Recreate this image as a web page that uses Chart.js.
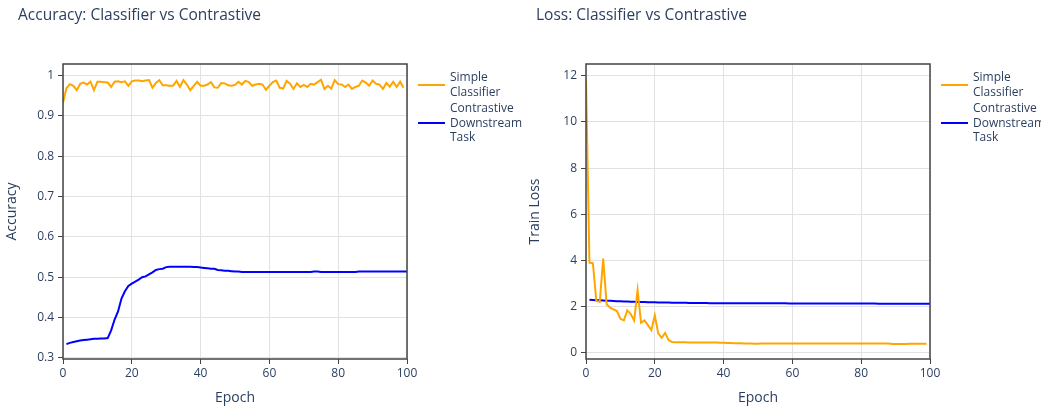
<!DOCTYPE html>
<html>
<head>
<meta charset="utf-8">
<script src="https://cdn.jsdelivr.net/npm/chart.js@4.4.1/dist/chart.umd.min.js"></script>
<style>
  body { margin: 0; background: #fff; font-family: "Open Sans", sans-serif; }
  #wrap { position: relative; width: 1041px; height: 409px; }
  .box { position: absolute; top: 0; width: 520px; height: 409px; }
  .title { position: absolute; top: 3px; font-size: 15.5px; color: #2a3f5f; white-space: nowrap; }
  .legend { position: absolute; top: 70px; font-size: 12px; color: #2a3f5f; line-height: 14.5px; }
  .item { position: relative; padding-left: 32px; margin-bottom: 2px; }
  .item span.sw { position: absolute; left: 0; width: 27px; height: 2px; }
</style>
</head>
<body>
<div id="wrap">
  <div class="box" style="left:0"><canvas id="accChart"></canvas></div>
  <div class="box" style="left:523px"><canvas id="lossChart"></canvas></div>
  <div class="title" style="left:18px">Accuracy: Classifier vs Contrastive</div>
  <div class="title" style="left:536px">Loss: Classifier vs Contrastive</div>
  <div class="legend" style="left:418px">
    <div class="item"><span class="sw" style="background:orange;top:14px"></span>Simple<br>Classifier</div>
    <div class="item"><span class="sw" style="background:blue;top:21px"></span>Contrastive<br>Downstream<br>Task</div>
  </div>
  <div class="legend" style="left:941px">
    <div class="item"><span class="sw" style="background:orange;top:14px"></span>Simple<br>Classifier</div>
    <div class="item"><span class="sw" style="background:blue;top:21px"></span>Contrastive<br>Downstream<br>Task</div>
  </div>
</div>
<script>
// epochs: classifier logged 0..99, contrastive 1..100
let classifierEpochs = Array.from({length: 100}, (_, k) => k);
let contrastiveEpochs = Array.from({length: 100}, (_, k) => k + 1);

let classifierAcc = [
  0.933, 0.969, 0.979, 0.975, 0.964, 0.980, 0.983, 0.978, 0.985, 0.964,
  0.985, 0.985, 0.984, 0.983, 0.972, 0.985, 0.986, 0.984, 0.986, 0.975,
  0.986, 0.988, 0.988, 0.986, 0.988, 0.989, 0.970, 0.982, 0.989, 0.976,
  0.976, 0.975, 0.975, 0.987, 0.972, 0.989, 0.978, 0.964, 0.975, 0.985,
  0.975, 0.975, 0.978, 0.984, 0.971, 0.970, 0.982, 0.981, 0.976, 0.975,
  0.977, 0.985, 0.978, 0.987, 0.984, 0.975, 0.978, 0.980, 0.978, 0.965,
  0.975, 0.984, 0.988, 0.970, 0.968, 0.987, 0.980, 0.967, 0.981, 0.972,
  0.977, 0.972, 0.980, 0.978, 0.984, 0.990, 0.967, 0.975, 0.968, 0.989,
  0.979, 0.978, 0.972, 0.978, 0.967, 0.972, 0.975, 0.988, 0.983, 0.975,
  0.988, 0.980, 0.978, 0.967, 0.982, 0.973, 0.985, 0.972, 0.985, 0.970
];
let contrastiveAcc = [
  0.334, 0.337, 0.339, 0.341, 0.343, 0.344, 0.345, 0.346, 0.347, 0.347,
  0.348, 0.348, 0.349, 0.368, 0.395, 0.415, 0.447, 0.465, 0.478, 0.484,
  0.489, 0.494, 0.500, 0.502, 0.507, 0.512, 0.518, 0.520, 0.521, 0.525,
  0.526, 0.526, 0.526, 0.526, 0.526, 0.526, 0.526, 0.525, 0.525, 0.524,
  0.523, 0.522, 0.521, 0.521, 0.518, 0.517, 0.516, 0.516, 0.515, 0.514,
  0.514, 0.513, 0.513, 0.513, 0.513, 0.513, 0.513, 0.513, 0.513, 0.513,
  0.513, 0.513, 0.513, 0.513, 0.513, 0.513, 0.513, 0.513, 0.513, 0.513,
  0.513, 0.513, 0.514, 0.514, 0.513, 0.513, 0.513, 0.513, 0.513, 0.513,
  0.513, 0.513, 0.513, 0.513, 0.513, 0.514, 0.514, 0.514, 0.514, 0.514,
  0.514, 0.514, 0.514, 0.514, 0.514, 0.514, 0.514, 0.514, 0.514, 0.514
];
let classifierLoss = [
  11.85, 3.90, 3.88, 2.25, 2.20, 4.08, 2.10, 1.95, 1.88, 1.81,
  1.47, 1.40, 1.84, 1.68, 1.40, 2.71, 1.30, 1.40, 1.20, 0.98,
  1.62, 0.84, 0.65, 0.86, 0.55, 0.47, 0.46, 0.46, 0.46, 0.46,
  0.45, 0.45, 0.45, 0.45, 0.45, 0.44, 0.44, 0.44, 0.44, 0.43,
  0.43, 0.42, 0.42, 0.41, 0.41, 0.41, 0.40, 0.40, 0.40, 0.39,
  0.39, 0.40, 0.40, 0.40, 0.40, 0.40, 0.40, 0.40, 0.40, 0.40,
  0.40, 0.40, 0.40, 0.40, 0.40, 0.40, 0.40, 0.40, 0.40, 0.40,
  0.40, 0.40, 0.40, 0.40, 0.40, 0.40, 0.40, 0.40, 0.40, 0.40,
  0.40, 0.40, 0.40, 0.40, 0.40, 0.40, 0.40, 0.40, 0.40, 0.38,
  0.38, 0.38, 0.38, 0.38, 0.39, 0.39, 0.39, 0.39, 0.39, 0.39
];
let contrastiveLoss = [
  2.30, 2.29, 2.28, 2.27, 2.26, 2.25, 2.25, 2.24, 2.23, 2.23,
  2.22, 2.22, 2.21, 2.21, 2.20, 2.20, 2.20, 2.19, 2.19, 2.19,
  2.18, 2.18, 2.18, 2.18, 2.17, 2.17, 2.17, 2.17, 2.17, 2.16,
  2.16, 2.16, 2.16, 2.16, 2.16, 2.15, 2.15, 2.15, 2.15, 2.15,
  2.15, 2.15, 2.15, 2.15, 2.14, 2.14, 2.14, 2.14, 2.14, 2.14,
  2.14, 2.14, 2.14, 2.14, 2.14, 2.14, 2.14, 2.14, 2.13, 2.13,
  2.13, 2.13, 2.13, 2.13, 2.13, 2.13, 2.13, 2.13, 2.13, 2.13,
  2.13, 2.13, 2.13, 2.13, 2.13, 2.13, 2.13, 2.13, 2.13, 2.13,
  2.13, 2.13, 2.13, 2.13, 2.12, 2.12, 2.12, 2.12, 2.12, 2.12,
  2.12, 2.12, 2.12, 2.12, 2.12, 2.12, 2.12, 2.12, 2.12, 2.12
];
let xTicks = [0, 20, 40, 60, 80, 100];
let accTicks = [0.3, 0.4, 0.5, 0.6, 0.7, 0.8, 0.9, 1];
let lossTicks = [0, 2, 4, 6, 8, 10, 12];

const textColor = '#2a3f5f';
const gridColor = '#e2e2e2';
const axisColor = '#444';

// plotly-style mirrored axis box
const boxPlugin = {
  id: 'box',
  afterDatasetsDraw(chart) {
    const a = chart.chartArea;
    const c = chart.ctx;
    c.save();
    c.strokeStyle = axisColor;
    c.lineWidth = 1.5;
    c.strokeRect(a.left, a.top, a.right - a.left, a.bottom - a.top);
    c.restore();
  }
};

function pts(xs, ys) {
  return xs.map((x, k) => ({x: x, y: ys[k]}));
}

function makeChart(id, yLabel, yMin, yMax, yTicks, fmt, series1, series2, xs1, xs2) {
  return new Chart(document.getElementById(id), {
    type: 'line',
    data: {
      datasets: [{
        label: 'Simple Classifier',
        data: pts(xs1, series1),
        borderColor: 'orange',
        borderWidth: 2,
        pointRadius: 0,
        tension: 0
      }, {
        label: 'Contrastive Downstream Task',
        data: pts(xs2, series2),
        borderColor: 'blue',
        borderWidth: 2,
        pointRadius: 0,
        tension: 0
      }]
    },
    options: {
      responsive: false,
      animation: false,
      layout: { padding: { top: 64, right: 113, left: 0, bottom: 0 } },
      plugins: { legend: { display: false }, tooltip: { enabled: false } },
      scales: {
        x: {
          type: 'linear',
          min: 0,
          max: 100,
          afterBuildTicks: (s) => { s.ticks = xTicks.map(v => ({value: v})); },
          afterFit: (s) => { s.height = 50; },
          grid: { color: gridColor, tickColor: axisColor, tickLength: 5 },
          border: { display: false },
          ticks: { color: textColor, font: { family: 'Open Sans', size: 12 }, padding: 2, maxRotation: 0 },
          title: { display: true, text: 'Epoch', color: textColor, font: { family: 'Open Sans', size: 14 }, padding: { top: 0, bottom: 3 } }
        },
        y: {
          min: yMin,
          max: yMax,
          afterBuildTicks: (s) => { s.ticks = yTicks.map(v => ({value: v})); },
          afterFit: (s) => { s.width = 63; },
          grid: { color: gridColor, tickColor: axisColor, tickLength: 5 },
          border: { display: false },
          ticks: { color: textColor, font: { family: 'Open Sans', size: 12 }, padding: 4, callback: fmt },
          title: { display: true, text: yLabel, color: textColor, font: { family: 'Open Sans', size: 14 }, padding: { top: 4, bottom: 0 } }
        }
      }
    },
    plugins: [boxPlugin]
  });
}

function sizeCanvas(id) {
  const cv = document.getElementById(id);
  cv.width = 520;
  cv.height = 409;
  cv.style.width = '520px';
  cv.style.height = '409px';
}
sizeCanvas('accChart');
sizeCanvas('lossChart');

makeChart('accChart', 'Accuracy', 0.297, 1.029, accTicks, v => String(v),
  classifierAcc, contrastiveAcc, classifierEpochs, contrastiveEpochs);
makeChart('lossChart', 'Train Loss', -0.27, 12.51, lossTicks, v => String(v),
  classifierLoss, contrastiveLoss, classifierEpochs, contrastiveEpochs);
</script>
</body>
</html>
